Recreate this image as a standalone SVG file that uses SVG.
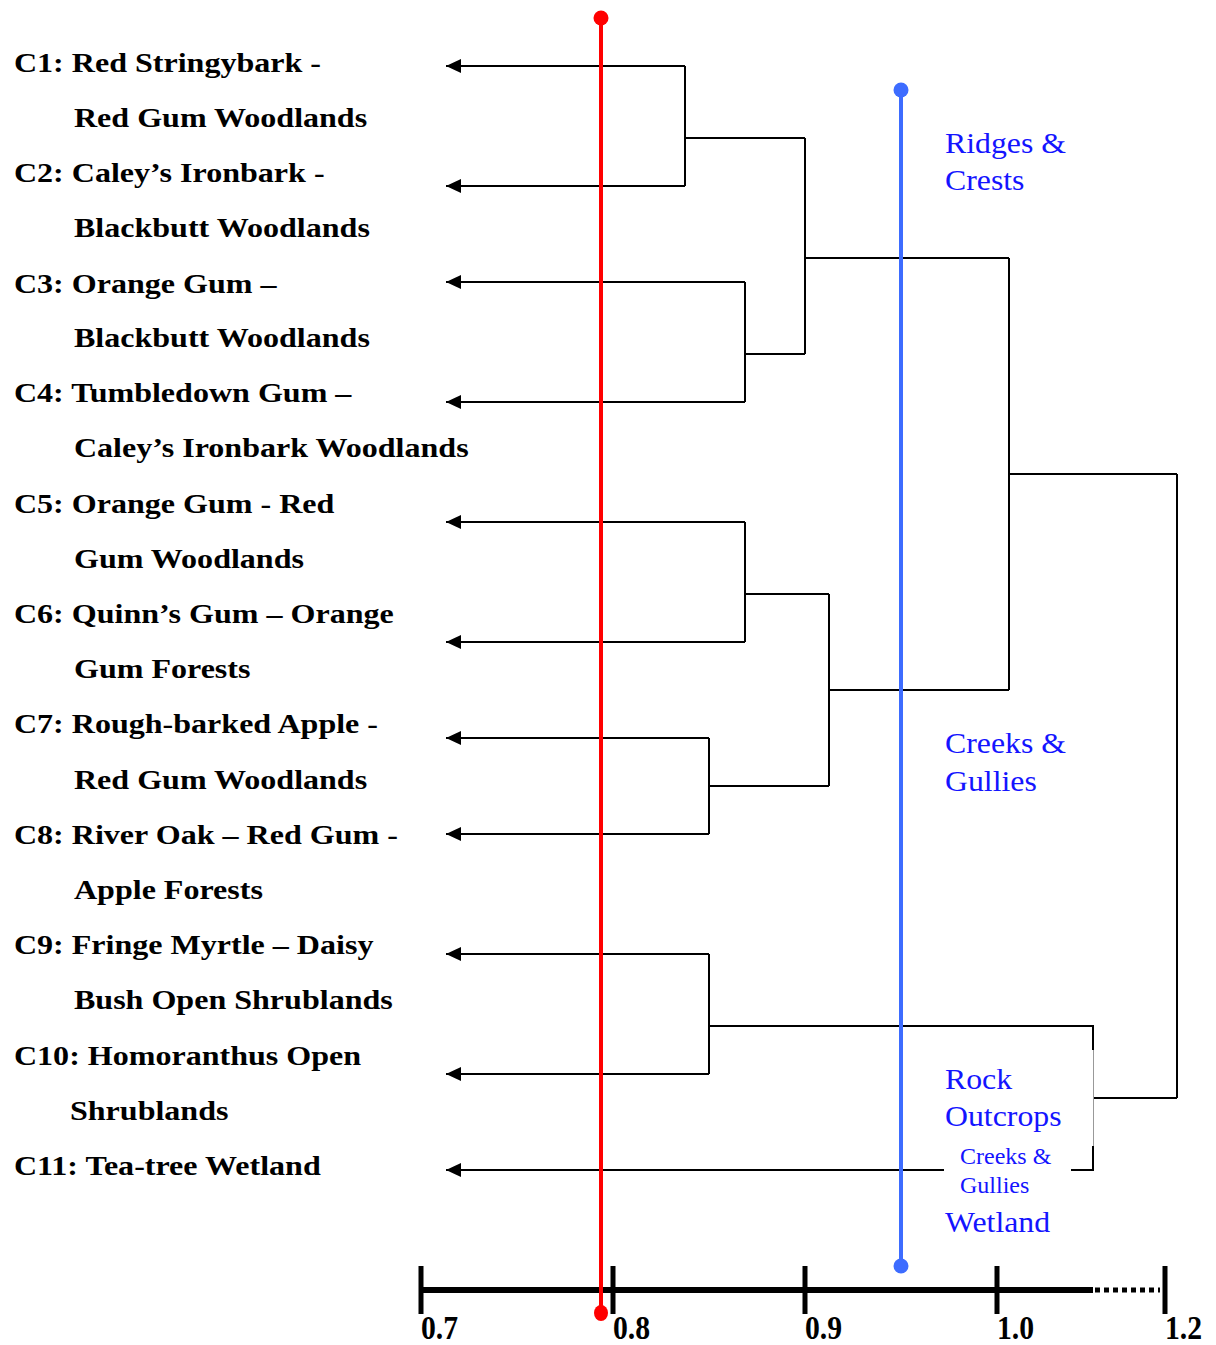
<svg xmlns="http://www.w3.org/2000/svg" width="1216" height="1345" viewBox="0 0 1216 1345">
<style>
.lbl{font-family:"Liberation Serif","Times New Roman",serif;font-weight:bold;font-size:28px;fill:#000}
.grp{font-family:"Liberation Serif","Times New Roman",serif;font-size:30px;fill:#1414ff}
.grps{font-family:"Liberation Serif","Times New Roman",serif;font-size:24px;fill:#1414ff}
.ax{font-family:"Liberation Serif","Times New Roman",serif;font-weight:bold;font-size:33px;fill:#000}
.c{fill:none;stroke:#000;stroke-width:2}
</style>
<defs>
<marker id="arr" markerUnits="userSpaceOnUse" markerWidth="16" markerHeight="16" refX="15" refY="8" orient="auto" viewBox="0 0 16 16">
<path d="M0,1 L15,8 L0,15 Z" fill="#000"/>
</marker>
</defs>
<rect width="1216" height="1345" fill="#fff"/>
<g id="labels" transform="scale(1.145,1)">
<g id="C1"><text class="lbl" x="12.2" y="72">C1: Red Stringybark -</text><text class="lbl" x="64.6" y="127">Red Gum Woodlands</text></g>
<g id="C2"><text class="lbl" x="12.2" y="182">C2: Caley’s Ironbark -</text><text class="lbl" x="64.6" y="237">Blackbutt Woodlands</text></g>
<g id="C3"><text class="lbl" x="12.2" y="293">C3: Orange Gum –</text><text class="lbl" x="64.6" y="347">Blackbutt Woodlands</text></g>
<g id="C4"><text class="lbl" x="12.2" y="402">C4: Tumbledown Gum –</text><text class="lbl" x="64.6" y="457">Caley’s Ironbark Woodlands</text></g>
<g id="C5"><text class="lbl" x="12.2" y="513">C5: Orange Gum - Red</text><text class="lbl" x="64.6" y="568">Gum Woodlands</text></g>
<g id="C6"><text class="lbl" x="12.2" y="623">C6: Quinn’s Gum – Orange</text><text class="lbl" x="64.6" y="678">Gum Forests</text></g>
<g id="C7"><text class="lbl" x="12.2" y="733">C7: Rough-barked Apple -</text><text class="lbl" x="64.6" y="789">Red Gum Woodlands</text></g>
<g id="C8"><text class="lbl" x="12.2" y="844">C8: River Oak – Red Gum -</text><text class="lbl" x="64.6" y="899">Apple Forests</text></g>
<g id="C9"><text class="lbl" x="12.2" y="954">C9: Fringe Myrtle – Daisy</text><text class="lbl" x="64.6" y="1009">Bush Open Shrublands</text></g>
<g id="C10"><text class="lbl" x="12.2" y="1065">C10: Homoranthus Open</text><text class="lbl" x="61.1" y="1120">Shrublands</text></g>
<g id="C11"><text class="lbl" x="12.2" y="1175">C11: Tea-tree Wetland</text></g>
</g>
<g id="connectors">
<path class="c" marker-end="url(#arr)" d="M685,66 H446"/>
<path class="c" marker-end="url(#arr)" d="M685,186 H446"/>
<path class="c" d="M685,66 V186 M685,138 H805"/>
<path class="c" marker-end="url(#arr)" d="M745,282 H446"/>
<path class="c" marker-end="url(#arr)" d="M745,402 H446"/>
<path class="c" d="M745,282 V402 M745,354 H805 M805,138 V354 M805,258 H1009"/>
<path class="c" marker-end="url(#arr)" d="M745,522 H446"/>
<path class="c" marker-end="url(#arr)" d="M745,642 H446"/>
<path class="c" d="M745,522 V642 M745,594 H829"/>
<path class="c" marker-end="url(#arr)" d="M709,738 H446"/>
<path class="c" marker-end="url(#arr)" d="M709,834 H446"/>
<path class="c" d="M709,738 V834 M709,786 H829 M829,594 V786 M829,690 H1009 M1009,258 V690 M1009,474 H1177 M1177,474 V1098 M1177,1098 H1093"/>
<path class="c" marker-end="url(#arr)" d="M709,954 H446"/>
<path class="c" marker-end="url(#arr)" d="M709,1074 H446"/>
<path class="c" d="M709,954 V1074 M709,1026 H1093 V1050"/>
<path class="c" d="M1093,1146 V1170 H1071"/>
<path fill="none" stroke="#999" stroke-width="1" d="M1093.5,1050 V1146"/>
<path class="c" marker-end="url(#arr)" d="M944,1170 H446"/>
</g>
<g id="groups">
<g transform="translate(945,0) scale(1.06,1)">
<text class="grp" x="0" y="153">Ridges &amp;</text>
<text class="grp" x="0" y="190">Crests</text>
<text class="grp" x="0" y="753">Creeks &amp;</text>
<text class="grp" x="0" y="791">Gullies</text>
<text class="grp" x="0" y="1089">Rock</text>
<text class="grp" x="0" y="1126">Outcrops</text>
<text class="grp" x="0" y="1232">Wetland</text>
</g>
<text class="grps" x="960" y="1164">Creeks &amp;</text>
<text class="grps" x="960" y="1193">Gullies</text>
</g>
<g id="axis">
<path stroke="#000" stroke-width="6" d="M421,1290 H1093"/>
<path stroke="#000" stroke-width="5" stroke-dasharray="5,4" d="M1095,1290 H1160"/>
<path stroke="#000" stroke-width="5" d="M421,1266 V1314 M613,1266 V1314 M805,1266 V1314 M997,1266 V1314 M1165,1266 V1314"/>
<text class="ax" transform="translate(421,1339) scale(0.9,1)">0.7</text>
<text class="ax" transform="translate(613,1339) scale(0.9,1)">0.8</text>
<text class="ax" transform="translate(805,1339) scale(0.9,1)">0.9</text>
<text class="ax" transform="translate(997,1339) scale(0.9,1)">1.0</text>
<text class="ax" transform="translate(1165,1339) scale(0.9,1)">1.2</text>
</g>
<g id="cutoff-red">
<path stroke="#ff0000" stroke-width="4" d="M601,18 V1314"/>
<circle cx="601" cy="18" r="7.5" fill="#ff0000"/>
<ellipse cx="601" cy="1313" rx="7" ry="8" fill="#ff0000"/>
</g>
<g id="cutoff-blue">
<path stroke="#3d6cff" stroke-width="4" d="M901,90 V1266"/>
<circle cx="901" cy="90" r="7.5" fill="#3d6cff"/>
<circle cx="901" cy="1266" r="7.5" fill="#3d6cff"/>
</g>
</svg>
